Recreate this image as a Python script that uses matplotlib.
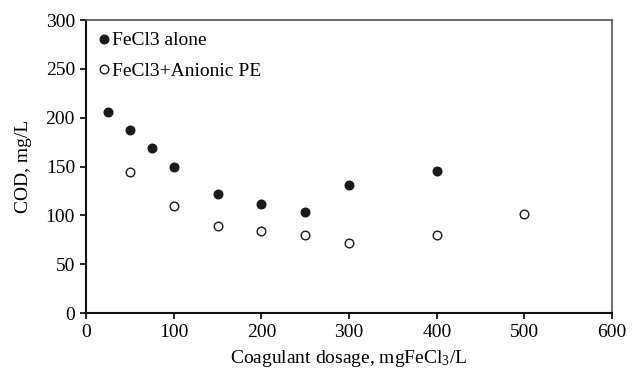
import matplotlib
matplotlib.use('Agg')
import matplotlib.pyplot as plt

plt.rcParams['font.family'] = ['Liberation Serif', 'DejaVu Serif']
plt.rcParams['mathtext.fontset'] = 'custom'
plt.rcParams['mathtext.rm'] = 'Liberation Serif'
plt.rcParams['mathtext.default'] = 'regular'

# FeCl3 alone
x_alone = [25, 50, 75, 100, 150, 200, 250, 300, 400]
cod_alone = [206, 187, 169, 150, 122, 112, 103, 131, 145]

# FeCl3 + anionic polyelectrolyte
x_pe = [50, 100, 150, 200, 250, 300, 400, 500]
cod_pe = [144, 110, 89, 84, 80, 72, 80, 101]

fig = plt.figure(figsize=(6.33, 3.71), dpi=100)
ax = fig.add_axes([0.136, 0.156, 0.831, 0.790])

ax.plot(x_alone, cod_alone, 'o', color='#1a1a1a', markersize=6.2,
        label='FeCl3 alone')
ax.plot(x_pe, cod_pe, 'o', markerfacecolor='white', markeredgecolor='#1a1a1a',
        markeredgewidth=1.0, markersize=6.2, label='FeCl3+Anionic PE')

ax.set_xlim(0, 600)
ax.set_ylim(0, 300)
ax.set_xticks(range(0, 601, 100))
ax.set_yticks(range(0, 301, 50))
ax.tick_params(labelsize=14, direction='out', length=4, width=1.2,
               top=False, right=False)
ax.tick_params(axis='x', pad=4)
ax.tick_params(axis='y', pad=4)

ax.set_xlabel(r'Coagulant dosage, mgFeCl$_3$/L', fontsize=14, labelpad=5)
ax.set_ylabel('COD, mg/L', fontsize=14, labelpad=10)

for s in ['left', 'bottom']:
    ax.spines[s].set_linewidth(1.5)
    ax.spines[s].set_color('#111111')
for s in ['top', 'right']:
    ax.spines[s].set_linewidth(1.2)
    ax.spines[s].set_color('#555555')

ax.legend(loc='upper left', bbox_to_anchor=(0.0, 0.99), frameon=False,
          fontsize=14, handletextpad=0.0, handlelength=0.9,
          labelspacing=0.68, borderaxespad=0.2, borderpad=0.25)

fig.savefig('out.png', dpi=100, facecolor='white')
